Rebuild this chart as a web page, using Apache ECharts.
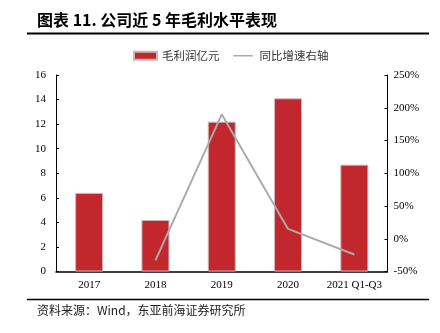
<!DOCTYPE html>
<html>
<head>
<meta charset="utf-8">
<style>
  html, body { margin: 0; padding: 0; background: #fff; }
  #chart { width: 440px; height: 333px; }
</style>
<script src="https://cdn.jsdelivr.net/npm/echarts@6/dist/echarts.min.js"></script>
</head>
<body>
<div id="chart"></div>
<script>
// Gross profit (100 million yuan) and YoY growth (%), by period
const categories = ['2017', '2018', '2019', '2020', '2021 Q1-Q3'];
const grossProfit = [6.4, 4.2, 12.2, 14.1, 8.7];
const yoyGrowth = [null, -33, 190, 15, -24];
const leftTicks = { min: 0, max: 16, interval: 2 };
const rightTicks = { min: -50, max: 250, interval: 50 };

const serif = '"Liberation Serif", "Times New Roman", serif';
const cjk = '"Noto Sans CJK SC", sans-serif';

// thin horizontal stroke centred in the legend item box
const lineIcon = 'path://M0,0h0.01v0.01h-0.01z M0,4h23v1.6h-23z M0,9.6h0.01v0.01h-0.01z';

const chart = echarts.init(document.getElementById('chart'), null, { renderer: 'canvas' });

chart.setOption({
  animation: false,
  backgroundColor: '#fff',
  graphic: [
    { type: 'text', left: 37, top: 12,
      style: { text: '图表 11. 公司近 5 年毛利水平表现', font: 'bold 16px ' + cjk, fill: '#000' } },
    { type: 'line', shape: { x1: 27, y1: 33.5, x2: 429, y2: 33.5 },
      style: { stroke: '#000', lineWidth: 2 } },
    { type: 'line', shape: { x1: 27, y1: 299.5, x2: 429, y2: 299.5 },
      style: { stroke: '#000', lineWidth: 1.5 } },
    { type: 'text', left: 37, top: 304,
      style: { text: '资料来源：Wind，东亚前海证券研究所', font: '12px ' + cjk, fill: '#222' } }
  ],
  legend: {
    top: 45,
    left: 128,
    itemGap: 14,
    itemWidth: 23,
    itemHeight: 8,
    textStyle: { fontFamily: cjk, fontSize: 11.5, color: '#333' },
    data: [
      { name: '毛利润亿元', icon: 'rect' },
      { name: '同比增速右轴', icon: lineIcon }
    ]
  },
  grid: { left: 56, right: 52.5, top: 75, bottom: 61.5 },
  xAxis: {
    type: 'category',
    data: categories,
    axisLine: { lineStyle: { color: '#000', width: 1.5 } },
    axisTick: { show: false },
    axisLabel: { color: '#000', fontFamily: serif, fontSize: 11, margin: 8, interval: 0 }
  },
  yAxis: [
    {
      type: 'value',
      min: leftTicks.min, max: leftTicks.max, interval: leftTicks.interval,
      splitLine: { show: false },
      axisLine: { show: true, lineStyle: { color: '#000' } },
      axisTick: { show: true, inside: true, length: 3, lineStyle: { color: '#000' } },
      axisLabel: { color: '#000', fontFamily: serif, fontSize: 11, margin: 10 }
    },
    {
      type: 'value',
      min: rightTicks.min, max: rightTicks.max, interval: rightTicks.interval,
      splitLine: { show: false },
      axisLine: { show: true, lineStyle: { color: '#000' } },
      axisTick: { show: true, inside: true, length: 3, lineStyle: { color: '#000' } },
      axisLabel: { color: '#000', fontFamily: serif, fontSize: 11, margin: 6,
                   formatter: v => v + '%' }
    }
  ],
  series: [
    {
      name: '毛利润亿元',
      type: 'bar',
      data: grossProfit,
      barWidth: 28,
      itemStyle: { color: '#C1272D', borderColor: '#c9b8ba', borderWidth: 1 }
    },
    {
      name: '同比增速右轴',
      type: 'line',
      yAxisIndex: 1,
      data: yoyGrowth,
      symbol: 'none',
      connectNulls: false,
      itemStyle: { color: '#ABABAB' },
      lineStyle: { color: '#ABABAB', width: 2 }
    }
  ]
});
</script>
</body>
</html>
